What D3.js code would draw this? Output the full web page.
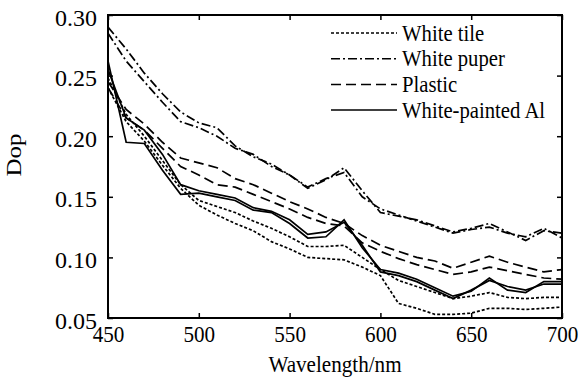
<!DOCTYPE html>
<html><head><meta charset="utf-8">
<script src="https://cdn.jsdelivr.net/npm/d3@7"></script>
<style>body{margin:0;background:#fff}svg{display:block}text{font-family:"Liberation Serif","DejaVu Serif",serif;fill:#000}</style>
</head><body><svg id="c" width="578" height="384"></svg>
<script>
const wavelengths = [450,460,470,480,490,500,510,520,530,540,550,560,570,580,590,600,610,620,630,640,650,660,670,680,690,700];
const whiteTile1 = [0.248,0.218,0.200,0.180,0.160,0.147,0.142,0.137,0.130,0.124,0.117,0.109,0.109,0.110,0.100,0.090,0.081,0.076,0.071,0.066,0.068,0.071,0.067,0.066,0.067,0.067];
const whiteTile2 = [0.240,0.212,0.196,0.176,0.157,0.143,0.135,0.128,0.122,0.113,0.107,0.100,0.099,0.098,0.092,0.085,0.062,0.058,0.053,0.053,0.054,0.058,0.058,0.057,0.058,0.059];
const whitePuper1 = [0.290,0.272,0.252,0.235,0.220,0.211,0.207,0.192,0.183,0.177,0.168,0.157,0.164,0.174,0.155,0.137,0.134,0.131,0.126,0.121,0.124,0.128,0.121,0.114,0.122,0.120];
const whitePuper2 = [0.285,0.262,0.245,0.228,0.212,0.207,0.200,0.190,0.185,0.175,0.168,0.158,0.165,0.170,0.150,0.140,0.135,0.130,0.125,0.120,0.123,0.125,0.120,0.117,0.124,0.116];
const plastic1 = [0.245,0.222,0.210,0.195,0.182,0.178,0.174,0.165,0.160,0.153,0.146,0.140,0.133,0.128,0.118,0.110,0.105,0.100,0.097,0.091,0.096,0.101,0.096,0.092,0.088,0.090];
const plastic2 = [0.240,0.215,0.205,0.190,0.175,0.168,0.160,0.158,0.152,0.146,0.140,0.133,0.128,0.126,0.112,0.105,0.099,0.094,0.090,0.086,0.088,0.092,0.089,0.086,0.083,0.082];
const paintedAl1 = [0.262,0.195,0.194,0.172,0.152,0.153,0.150,0.147,0.139,0.137,0.128,0.116,0.117,0.131,0.108,0.090,0.087,0.082,0.075,0.068,0.072,0.083,0.073,0.071,0.080,0.080];
const paintedAl2 = [0.255,0.215,0.205,0.185,0.160,0.155,0.152,0.149,0.141,0.138,0.131,0.119,0.121,0.129,0.110,0.088,0.085,0.080,0.073,0.066,0.073,0.081,0.076,0.073,0.078,0.078];
const xTicks = [450,500,550,600,650,700];
const yTicks = [0.05,0.10,0.15,0.20,0.25,0.30];
const legendLabels = ["White tile","White puper","Plastic","White-painted Al"];

const styles = {"White tile":"3,2","White puper":"9,3,2,3","Plastic":"10,5","White-painted Al":null};
const series = [
  {name:"White tile", v:whiteTile1},{name:"White tile", v:whiteTile2},
  {name:"White puper", v:whitePuper1},{name:"White puper", v:whitePuper2},
  {name:"Plastic", v:plastic1},{name:"Plastic", v:plastic2},
  {name:"White-painted Al", v:paintedAl1},{name:"White-painted Al", v:paintedAl2}
];

const L=108,R=562,T=15,B=318;
const FONT='"Liberation Serif","DejaVu Serif",serif';
const SX=0.88;
const svg=d3.select("#c");
const x=d3.scaleLinear().domain([450,700]).range([L,R]);
const y=d3.scaleLinear().domain([0.05,0.30]).range([B,T]);

svg.append("clipPath").attr("id","cl").append("rect").attr("x",L).attr("y",T).attr("width",R-L).attr("height",B-T);
const line=d3.line().x((d,i)=>x(wavelengths[i])).y(d=>y(d));
svg.append("g").attr("clip-path","url(#cl)").selectAll("path").data(series).join("path")
  .attr("d",d=>line(d.v)).attr("fill","none").attr("stroke","#000").attr("stroke-width",1.7)
  .attr("stroke-dasharray",d=>styles[d.name]);

const fmt=d3.format(".2f");
svg.append("g").attr("transform",`translate(0,${B})`).call(d3.axisBottom(x).tickValues(xTicks).tickSizeInner(-5).tickSizeOuter(0).tickPadding(7).tickFormat(d3.format("d")))
  .call(g=>{g.attr("font-family",FONT);g.select(".domain").remove();g.selectAll("text").attr("font-size",24).attr("transform",`scale(${SX},1)`);});
svg.append("g").attr("transform",`translate(0,${T})`).call(d3.axisTop(x).tickValues(xTicks).tickSizeInner(-5).tickSizeOuter(0).tickFormat(""))
  .call(g=>g.select(".domain").remove());
svg.append("g").attr("transform",`translate(${L},0)`).call(d3.axisLeft(y).tickValues(yTicks).tickSizeInner(-5).tickSizeOuter(0).tickPadding(11).tickFormat(fmt))
  .call(g=>{g.attr("font-family",FONT);g.select(".domain").remove();g.selectAll("text").attr("font-size",24).attr("dy","0.42em");});
svg.append("g").attr("transform",`translate(${R},0)`).call(d3.axisRight(y).tickValues(yTicks).tickSizeInner(-5).tickSizeOuter(0).tickFormat(""))
  .call(g=>g.select(".domain").remove());
svg.selectAll(".tick line").attr("stroke","#000").attr("stroke-width",1.5);
svg.append("rect").attr("x",L).attr("y",T).attr("width",R-L).attr("height",B-T).attr("fill","none").attr("stroke","#000").attr("stroke-width",2);

svg.append("text").attr("transform",`translate(335,372) scale(${SX},1)`).attr("text-anchor","middle").attr("font-size",24).attr("font-family",FONT).text("Wavelength/nm");
svg.append("text").attr("transform",`translate(21,155) rotate(-90) scale(1,${SX})`).attr("text-anchor","middle").attr("font-size",25).attr("font-family",FONT).text("Dop");

const lg=svg.append("g");
legendLabels.forEach((n,i)=>{
  const yy=33+i*25.7;
  lg.append("line").attr("x1",331).attr("x2",397).attr("y1",yy).attr("y2",yy).attr("stroke","#000").attr("stroke-width",1.5).attr("stroke-dasharray",styles[n]);
  lg.append("text").attr("transform",`translate(402,${yy+7.5}) scale(0.9,1)`).attr("font-size",23).attr("font-family",FONT).text(n);
});
</script></body></html>
